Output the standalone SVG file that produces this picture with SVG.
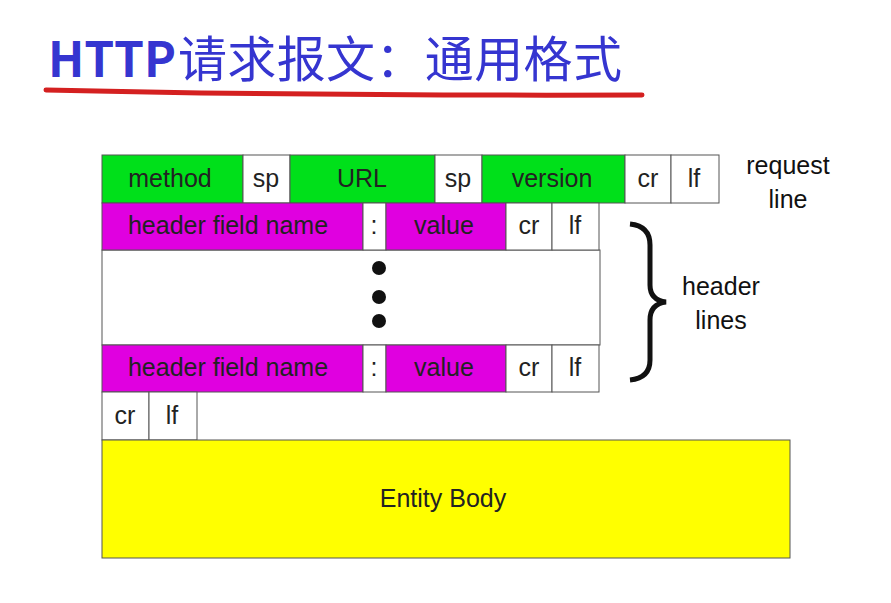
<svg xmlns="http://www.w3.org/2000/svg" width="891" height="603" viewBox="0 0 891 603">
<style>
.b{stroke:#555;stroke-width:1}
.g{fill:#00e01a}.m{fill:#e000e0}.w{fill:#fff}.y{fill:#ffff00}
text{font-family:"Liberation Sans",Arial,sans-serif;font-size:25px;fill:#222;text-anchor:middle}
.l{fill:#111}
</style>
<rect width="891" height="603" fill="#fff"/>
<g id="title">
<text x="48" y="77" style="font-family:'Noto Sans CJK SC',sans-serif;font-size:48px;fill:#3535d0;text-anchor:start;font-weight:bold" textLength="128">HTTP</text>
<text x="178" y="77" style="font-family:'Noto Sans CJK SC',sans-serif;font-size:49px;fill:#3535d0;text-anchor:start" textLength="444">请求报文：通用格式</text>
<path d="M46,90 Q300,96 642,95" stroke="#d42020" stroke-width="5" fill="none" stroke-linecap="round"/>
</g>
<g id="request-line">
<rect class="b g" x="102" y="155" width="141" height="48"/><text x="170" y="187">method</text>
<rect class="b w" x="243" y="155" width="47" height="48"/><text x="266" y="187">sp</text>
<rect class="b g" x="290" y="155" width="145" height="48"/><text x="362" y="187">URL</text>
<rect class="b w" x="435" y="155" width="47" height="48"/><text x="458" y="187">sp</text>
<rect class="b g" x="482" y="155" width="143" height="48"/><text x="552" y="187">version</text>
<rect class="b w" x="625" y="155" width="46" height="48"/><text x="648" y="187">cr</text>
<rect class="b w" x="671" y="155" width="48" height="48"/><text x="694" y="187">lf</text>
</g>
<g id="header-middle"><rect class="b w" x="102" y="250" width="498" height="95"/>
<circle cx="379" cy="268" r="7" fill="#111"/><circle cx="379" cy="297" r="7" fill="#111"/><circle cx="379" cy="321" r="7" fill="#111"/></g>
<g id="header-1">
<rect class="b m" x="102" y="203" width="261" height="47"/><text x="228" y="234">header field name</text>
<rect class="b w" x="363" y="203" width="23" height="47"/><text x="374" y="234">:</text>
<rect class="b m" x="386" y="203" width="120" height="47"/><text x="444" y="234">value</text>
<rect class="b w" x="506" y="203" width="46" height="47"/><text x="529" y="234">cr</text>
<rect class="b w" x="552" y="203" width="47" height="47"/><text x="575" y="234">lf</text>
</g>
<g id="header-n">
<rect class="b m" x="102" y="345" width="261" height="47"/><text x="228" y="376">header field name</text>
<rect class="b w" x="363" y="345" width="23" height="47"/><text x="374" y="376">:</text>
<rect class="b m" x="386" y="345" width="120" height="47"/><text x="444" y="376">value</text>
<rect class="b w" x="506" y="345" width="46" height="47"/><text x="529" y="376">cr</text>
<rect class="b w" x="552" y="345" width="47" height="47"/><text x="575" y="376">lf</text>
</g>
<g id="crlf">
<rect class="b w" x="102" y="392" width="47" height="48"/><text x="125" y="424">cr</text>
<rect class="b w" x="149" y="392" width="48" height="48"/><text x="172" y="424">lf</text>
</g>
<g id="entity-body"><rect class="b y" x="102" y="440" width="688" height="118"/><text x="443" y="507">Entity Body</text></g>
<g id="labels">
<text class="l" x="788" y="174">request</text><text class="l" x="788" y="208">line</text>
<path d="M630,224 Q650,226 650,245 L650,285 Q650,300 666,302 Q650,304 650,320 L650,360 Q650,378 630,380" stroke="#111" stroke-width="5" fill="none"/>
<text class="l" x="721" y="295">header</text><text class="l" x="721" y="329">lines</text>
</g>
</svg>
